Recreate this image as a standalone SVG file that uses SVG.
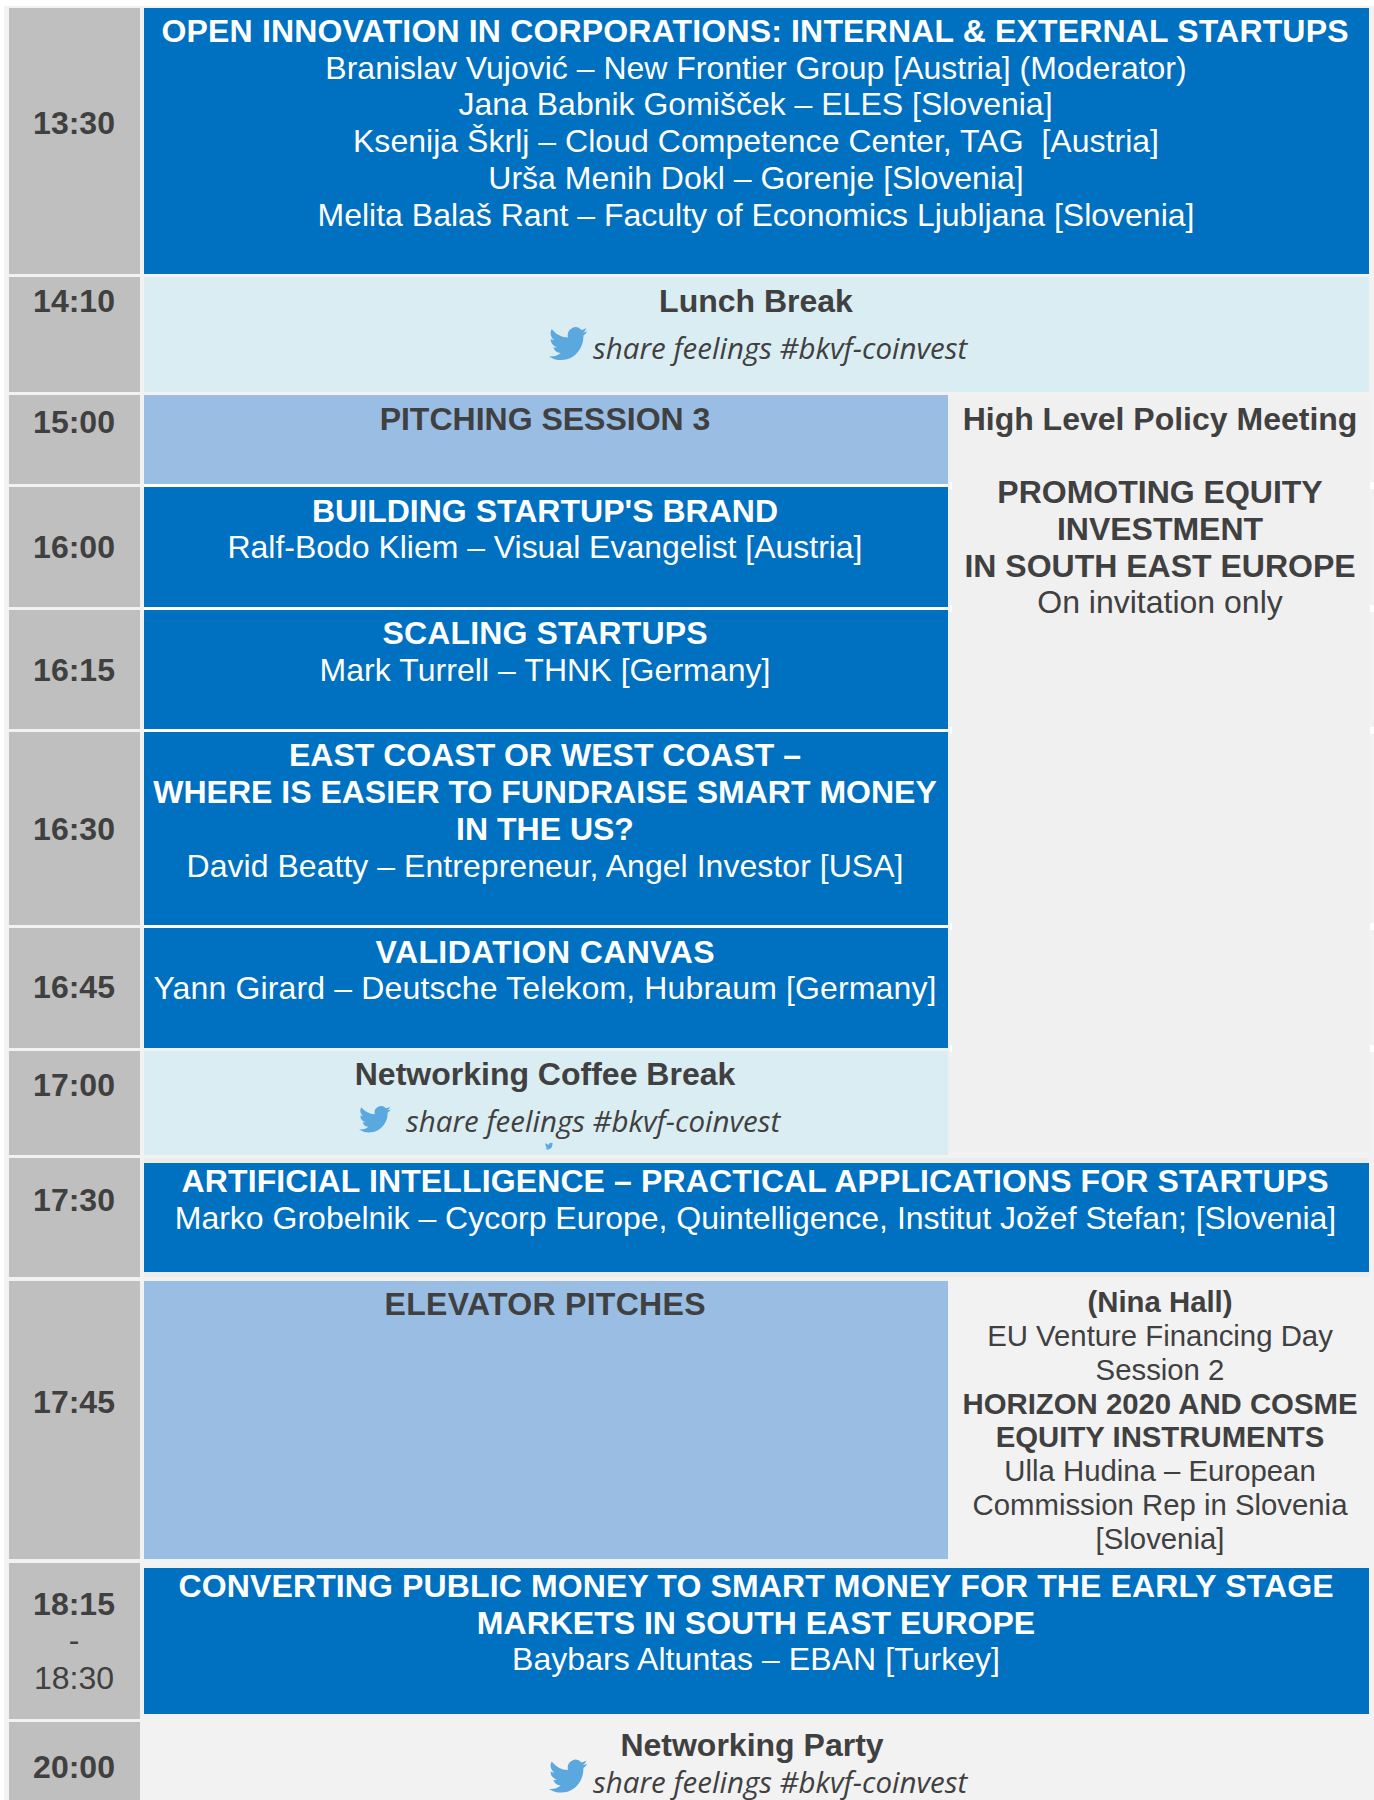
<svg xmlns="http://www.w3.org/2000/svg" width="1374" height="1800" viewBox="0 0 1374 1800">
<defs>
<style>
text{font-family:"Liberation Sans",Arial,sans-serif;text-anchor:middle;fill:#404040;font-size:32px}
.b{font-weight:700}
.w{fill:#fff}
.s{font-size:29.33px}
.tw{font-family:"Open Sans",sans-serif;font-style:italic;font-size:29.5px;text-anchor:start}
.time{fill:#bfbfbf}
.dark{fill:#0070c0}
.mid{fill:#99bde3}
.pale{fill:#daedf3}
.grey{fill:#f2f2f2}
.tick{fill:#fff}
</style>
<path id="bird" fill="#5aa8de" d="M24 4.6a9.8 9.8 0 0 1-2.8.8 4.9 4.9 0 0 0 2.2-2.7 9.9 9.9 0 0 1-3.1 1.2 4.9 4.9 0 0 0-8.4 4.5A14 14 0 0 1 1.7 3.2a4.9 4.9 0 0 0 1.5 6.6 4.9 4.9 0 0 1-2.2-.6v.1a4.9 4.9 0 0 0 3.9 4.8 4.9 4.9 0 0 1-2.2.1 4.9 4.9 0 0 0 4.6 3.4A9.9 9.9 0 0 1 0 19.6 14 14 0 0 0 7.5 21.8c9.1 0 14-7.5 14-14v-.6A10 10 0 0 0 24 4.6z"/>
</defs>
<rect x="0" y="0" width="1374" height="1800" fill="#fff"/>
<rect x="4" y="6" width="1370" height="1794" class="grey"/>

<g id="row-1330">
<rect x="9" y="8" width="131" height="266" class="time"/><text x="74" y="134" class="b">13:30</text>
<rect x="144" y="8" width="1225" height="266" class="dark"/>
<text x="755" y="41.5" class="b w" textLength="1187">OPEN INNOVATION IN CORPORATIONS: INTERNAL &amp; EXTERNAL STARTUPS</text>
<text x="756" y="78.5" class="w">Branislav Vujović – New Frontier Group [Austria] (Moderator)</text>
<text x="755.5" y="115" class="w">Jana Babnik Gomišček – ELES [Slovenia]</text>
<text x="756" y="152" class="w" textLength="806">Ksenija Škrlj – Cloud Competence Center, TAG&#160; [Austria]</text>
<text x="756" y="189" class="w">Urša Menih Dokl – Gorenje [Slovenia]</text>
<text x="756" y="226" class="w">Melita Balaš Rant – Faculty of Economics Ljubljana [Slovenia]</text>
</g>

<g id="row-1410">
<rect x="9" y="277" width="131" height="115" class="time"/><text x="74" y="312" class="b">14:10</text>
<rect x="144" y="277" width="1225" height="115" class="pale"/>
<text x="756" y="312" class="b">Lunch Break</text>
<use href="#bird" transform="translate(549 323.5) scale(1.6 1.68)"/>
<text x="593" y="359" class="tw">share feelings #bkvf-coinvest</text>
</g>

<g id="row-1500">
<rect x="9" y="395" width="131" height="89" class="time"/><text x="74" y="433" class="b">15:00</text>
<rect x="144" y="395" width="804" height="89" class="mid"/>
<text x="545" y="430" class="b">PITCHING SESSION 3</text>
</g>

<g id="policy-meeting">
<rect x="948" y="397" width="421" height="756" fill="#f0f0f0"/>
<rect x="950" y="482" width="2" height="7" class="tick"/><rect x="1370" y="482" width="4" height="7" class="tick"/>
<rect x="950" y="605" width="2" height="7" class="tick"/><rect x="1370" y="605" width="4" height="7" class="tick"/>
<rect x="950" y="727" width="2" height="7" class="tick"/><rect x="1370" y="727" width="4" height="7" class="tick"/>
<rect x="950" y="923" width="2" height="7" class="tick"/><rect x="1370" y="923" width="4" height="7" class="tick"/>
<rect x="950" y="1045" width="2" height="7" class="tick"/><rect x="1370" y="1045" width="4" height="7" class="tick"/>
<text x="1160" y="430" class="b">High Level Policy Meeting</text>
<text x="1160" y="503" class="b">PROMOTING EQUITY</text>
<text x="1160" y="540" class="b">INVESTMENT</text>
<text x="1160" y="576.5" class="b">IN SOUTH EAST EUROPE</text>
<text x="1160" y="613">On invitation only</text>
</g>

<g id="row-1600">
<rect x="144" y="484" width="804" height="3" class="tick"/>
<rect x="9" y="487" width="131" height="120" class="time"/><text x="74" y="558" class="b">16:00</text>
<rect x="144" y="487" width="804" height="120" class="dark"/>
<text x="545" y="522" class="b w" textLength="466">BUILDING STARTUP'S BRAND</text>
<text x="545" y="558" class="w" textLength="635">Ralf-Bodo Kliem – Visual Evangelist [Austria]</text>
</g>

<g id="row-1615">
<rect x="144" y="607" width="804" height="3" class="tick"/>
<rect x="9" y="610" width="131" height="119" class="time"/><text x="74" y="681" class="b">16:15</text>
<rect x="144" y="610" width="804" height="119" class="dark"/>
<text x="545" y="644" class="b w" textLength="325">SCALING STARTUPS</text>
<text x="545" y="681" class="w" textLength="451">Mark Turrell – THNK [Germany]</text>
</g>

<g id="row-1630">
<rect x="144" y="729" width="804" height="3" class="tick"/>
<rect x="9" y="732" width="131" height="193" class="time"/><text x="74" y="840" class="b">16:30</text>
<rect x="144" y="732" width="804" height="193" class="dark"/>
<text x="545" y="766" class="b w">EAST COAST OR WEST COAST –</text>
<text x="545" y="803" class="b w">WHERE IS EASIER TO FUNDRAISE SMART MONEY</text>
<text x="545" y="840" class="b w">IN THE US?</text>
<text x="545" y="877" class="w" textLength="717">David Beatty – Entrepreneur, Angel Investor [USA]</text>
</g>

<g id="row-1645">
<rect x="144" y="925" width="804" height="3" class="tick"/>
<rect x="9" y="928" width="131" height="120" class="time"/><text x="74" y="998" class="b">16:45</text>
<rect x="144" y="928" width="804" height="120" class="dark"/>
<text x="545" y="963" class="b w" textLength="339">VALIDATION CANVAS</text>
<text x="545" y="999" class="w" textLength="783">Yann Girard – Deutsche Telekom, Hubraum [Germany]</text>
</g>

<g id="row-1700">
<rect x="9" y="1051" width="131" height="104" class="time"/><text x="74" y="1096" class="b">17:00</text>
<rect x="144" y="1051" width="804" height="104" class="pale"/>
<text x="545" y="1085" class="b">Networking Coffee Break</text>
<use href="#bird" transform="translate(359 1103) scale(1.33 1.35)"/>
<text x="406" y="1132" class="tw">share feelings #bkvf-coinvest</text>
<use href="#bird" transform="translate(545 1142) scale(0.34)"/>
</g>

<g id="row-1730">
<rect x="144" y="1158" width="1225" height="119" fill="#ececec"/>
<rect x="9" y="1158" width="131" height="119" class="time"/><text x="74" y="1211" class="b">17:30</text>
<rect x="144" y="1163" width="1225" height="109" class="dark"/>
<text x="755" y="1191.5" class="b w" textLength="1147">ARTIFICIAL INTELLIGENCE – PRACTICAL APPLICATIONS FOR STARTUPS</text>
<text x="755.5" y="1228.5" class="w">Marko Grobelnik – Cycorp Europe, Quintelligence, Institut Jožef Stefan; [Slovenia]</text>
</g>

<g id="row-1745">
<rect x="9" y="1281" width="131" height="278" class="time"/><text x="74" y="1412.5" class="b">17:45</text>
<rect x="144" y="1281" width="804" height="278" class="mid"/>
<text x="545" y="1314.5" class="b" textLength="321">ELEVATOR PITCHES</text>
<text x="1160" y="1312" class="b s">(Nina Hall)</text>
<text x="1160" y="1346" class="s">EU Venture Financing Day</text>
<text x="1160" y="1380" class="s">Session 2</text>
<text x="1160" y="1414" class="b s">HORIZON 2020 AND COSME</text>
<text x="1160" y="1447" class="b s">EQUITY INSTRUMENTS</text>
<text x="1160" y="1481" class="s">Ulla Hudina – European</text>
<text x="1160" y="1515" class="s">Commission Rep in Slovenia</text>
<text x="1160" y="1549" class="s">[Slovenia]</text>
</g>

<g id="row-1815">
<rect x="9" y="1563" width="131" height="156" class="time"/>
<text x="74" y="1615" class="b">18:15</text>
<text x="74" y="1651">-</text>
<text x="74" y="1688.5">18:30</text>
<rect x="144" y="1568" width="1225" height="146" class="dark"/>
<text x="756" y="1597" class="b w" textLength="1155">CONVERTING PUBLIC MONEY TO SMART MONEY FOR THE EARLY STAGE</text>
<text x="756" y="1633.5" class="b w">MARKETS IN SOUTH EAST EUROPE</text>
<text x="756" y="1670" class="w" textLength="488">Baybars Altuntas – EBAN [Turkey]</text>
</g>

<g id="row-2000">
<rect x="9" y="1722" width="131" height="78" class="time"/><text x="74" y="1777.5" class="b">20:00</text>
<text x="752" y="1756" class="b">Networking Party</text>
<use href="#bird" transform="translate(549 1756) scale(1.6 1.68)"/>
<text x="593" y="1793" class="tw">share feelings #bkvf-coinvest</text>
</g>

<g id="connectors"></g>
</svg>
